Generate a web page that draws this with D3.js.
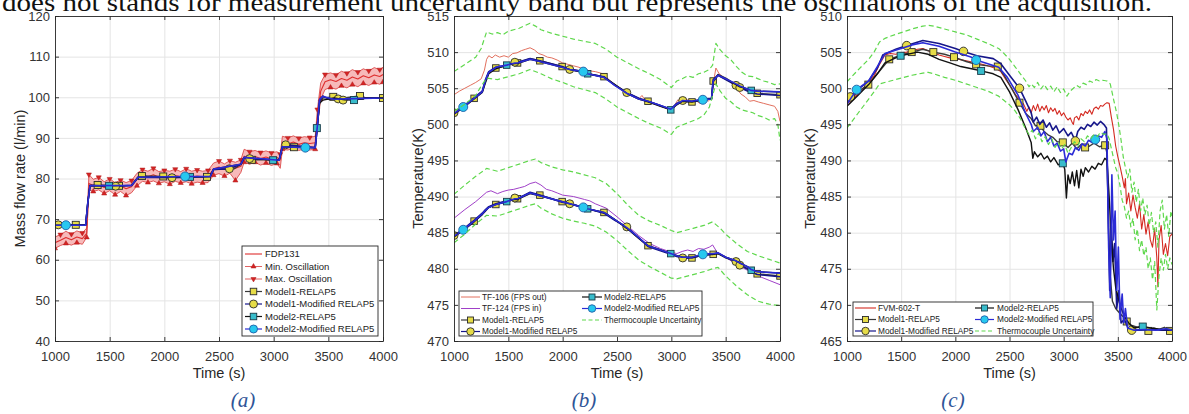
<!DOCTYPE html>
<html><head><meta charset="utf-8">
<script src="https://cdn.jsdelivr.net/npm/d3@7"></script>
<style>body{margin:0;background:#fff;}svg{display:block;}</style>
</head><body>
<svg id="chart" width="1189" height="414"></svg>
<script>
// ---------------- DATA ----------------
const headerText = "does not stands for measurement uncertainty band but represents the oscillations of the acquisition.";
const xTicks = [1000,1500,2000,2500,3000,3500,4000];
const aYTicks = [40,50,60,70,80,90,100,110,120];
const bYTicks = [470,475,480,485,490,495,500,505,510,515];
const cYTicks = [465,470,475,480,485,490,495,500,505,510];

// Panel (a): FDP131 mean with min / max oscillation
const aTime = [1000,1050,1100,1150,1200,1250,1290,1310,1350,1400,1450,1500,1550,1600,1650,1700,1750,1800,1850,1900,1950,2000,2050,2100,2150,2200,2250,2300,2350,2400,2450,2500,2550,2600,2650,2700,2730,2780,2830,2880,2930,2980,3030,3060,3080,3130,3180,3230,3280,3330,3380,3400,3430,3470,3520,3570,3620,3670,3720,3770,3820,3870,3920,3970,4000];
const aFDP131 = [64.2,64.8,65.5,64.9,65.6,65.2,66.5,78.8,78.3,78.6,77.8,78.3,77.6,78.2,77.5,78.0,79.8,80.8,80.4,80.9,80.3,80.6,80.2,80.7,80.4,80.8,80.3,80.6,80.4,80.5,82.4,82.8,82.2,82.9,82.5,83.0,85.5,85.0,85.4,84.9,85.3,84.8,85.2,84.6,88.8,88.5,89.0,88.4,88.8,88.6,88.8,95.0,101.5,103.8,104.3,103.9,104.6,104.2,105.0,104.5,105.3,104.8,105.5,105.1,105.6];
const aMinOsc = [62.8,63.5,64.0,63.6,64.2,63.8,65.5,77.2,76.8,77.2,76.3,77.0,76.0,76.8,75.8,76.5,78.2,79.3,79.0,79.4,78.8,79.2,78.6,79.3,78.9,79.2,78.7,79.1,78.9,79.0,80.8,81.2,80.6,81.3,79.5,81.5,84.0,83.5,84.0,83.3,83.8,83.2,83.7,82.5,87.2,87.0,87.5,86.9,87.3,87.0,87.2,93.0,99.5,101.9,102.4,102.0,102.8,102.3,103.1,102.6,103.4,102.9,103.6,103.2,103.7];
const aMaxOsc = [65.6,66.2,67.0,66.3,67.1,66.6,67.8,81.0,79.8,80.3,79.2,79.9,79.0,79.6,79.0,79.5,81.3,82.2,81.8,82.5,81.7,82.0,81.8,82.3,81.7,82.4,81.8,82.1,81.8,82.0,83.8,84.3,83.6,84.4,84.0,84.6,87.2,86.6,86.9,86.4,86.8,86.3,86.6,86.0,90.4,90.0,90.5,89.9,90.3,90.1,90.4,97.0,103.5,105.6,106.0,105.5,106.4,105.9,106.8,106.2,107.0,106.5,107.3,106.8,107.4];
// models (a): [time, value, markerFlag]
const aModel1 = [[1000,68.6],[1190,68.6,1],[1280,68.6],[1300,74],[1320,78.2],[1390,78.4,1],[1585,78.2,1],[1700,78.3],[1760,80.3],[1795,80.6,1],[1990,80.5,1],[2390,80.4,1],[2420,80.6],[2450,82.2],[2640,82.4],[2700,83.5],[2730,85.0],[2800,84.6,1],[3050,84.6],[3080,87.8],[3185,87.7,1],[3380,87.6],[3400,92.5],[3420,99],[3450,99.8],[3545,100.1,1],[3600,99.7],[3790,100.3,1],[3850,99.8],[4000,99.8,1]];
const aModel1Mod = [[1000,68.6],[1030,68.6,1],[1280,68.5],[1300,74],[1320,78.3],[1555,78.1,1],[1700,78.3],[1760,80.3],[2070,80.2,1],[2420,80.5],[2450,82.2],[2595,82.4,1],[2700,83.5],[2730,85.1],[2780,84.9,1],[3050,84.6],[3080,87.8],[3110,88.3,1],[3380,87.6],[3400,93],[3420,99.2],[3450,100.3],[3500,99.6],[3590,99.6,1],[3635,99.3,1],[3700,99.7],[4000,99.8]];
const aModel2 = [[1000,68.5],[1280,68.5],[1300,74],[1320,78.2],[1495,78.2,1],[1700,78.3],[1760,80.3],[2235,80.4,1],[2420,80.5],[2450,82.3],[2700,83.5],[2730,85.2],[2995,84.5,1],[3050,84.5],[3080,87.8],[3380,87.6],[3395,92.4,1],[3420,98.5],[3450,99.3],[3550,99.8],[3650,99.4],[3735,99.3,1],[3850,99.8],[4000,99.8]];
const aModel2Mod = [[1000,68.5],[1100,68.5,1],[1280,68.5],[1300,74],[1320,78.2],[1700,78.3],[1760,80.3],[2190,80.5,1],[2420,80.5],[2450,82.3],[2700,83.5],[2730,85.2],[3050,84.5],[3080,87.8],[3290,87.6,1],[3380,87.6],[3400,93],[3420,99.5],[3450,100.2],[3550,99.5],[3650,99.6],[4000,99.8]];

// Panel (b)
const bTF106 = [[1000,504.1],[1050,504.6],[1100,505.0],[1150,505.4],[1200,505.8],[1250,506.3],[1280,507.5],[1300,509.0],[1320,509.5],[1350,509.2],[1380,509.6],[1420,509.3],[1460,509.5],[1500,509.3],[1540,509.8],[1580,509.9],[1620,510.2],[1660,510.4],[1700,510.6],[1740,510.3],[1780,509.8],[1820,509.6],[1860,509.3],[1900,509.2],[1950,508.9],[2000,508.5],[2050,508.3],[2100,508.1],[2150,507.9],[2200,507.6],[2250,507.4],[2300,507.3],[2350,507.1],[2380,506.9],[2450,505.8],[2500,505.2],[2550,504.8],[2600,504.3],[2650,503.8],[2700,503.5],[2730,504.0],[2760,503.3],[2800,503.0],[2850,502.8],[2900,502.5],[2950,502.3],[3000,502.0],[3030,502.6],[3060,503.4],[3100,502.9],[3140,503.5],[3180,503.0],[3220,503.4],[3260,502.9],[3300,503.6],[3340,503.2],[3370,503.7],[3390,506.0],[3410,507.8],[3440,507.0],[3480,506.5],[3520,506.2],[3560,505.6],[3600,505.0],[3640,504.2],[3680,503.8],[3720,503.2],[3760,503.3],[3800,503.1],[3850,502.9],[3900,502.7],[3950,502.5],[3980,501.8],[4000,500.4]];
const bTF124 = [[1000,487.0],[1100,488.2],[1200,489.3],[1300,490.6],[1340,490.8],[1400,490.4],[1450,490.7],[1500,490.9],[1550,491.0],[1600,491.2],[1650,491.4],[1700,491.8],[1750,492.0],[1800,491.6],[1850,491.0],[1900,490.8],[1950,490.5],[2000,490.2],[2100,490.0],[2200,489.6],[2250,489.4],[2300,489.0],[2350,488.7],[2400,488.4],[2500,487.2],[2600,485.9],[2700,484.6],[2800,483.5],[2900,482.8],[3000,482.3],[3050,482.1],[3100,482.4],[3150,482.6],[3200,482.4],[3250,482.8],[3300,482.7],[3350,483.0],[3380,483.3],[3420,482.3],[3500,481.6],[3600,480.6],[3700,479.8],[3800,479.0],[3900,478.4],[4000,477.8]];
const bUncOutHi = [[1000,507.3],[1100,508.3],[1200,509.3],[1250,510.5],[1300,512.8],[1350,512.5],[1400,512.7],[1450,512.4],[1500,512.9],[1600,513.3],[1700,514.0],[1750,513.6],[1800,513.1],[1900,512.6],[2000,512.2],[2100,511.8],[2200,511.5],[2300,511.2],[2400,510.4],[2500,509.3],[2600,508.5],[2700,507.7],[2800,507.0],[2900,506.2],[3000,505.1],[3050,506.0],[3100,506.3],[3150,506.7],[3200,506.5],[3250,507.0],[3300,507.2],[3350,507.6],[3380,508.2],[3410,511.2],[3450,510.3],[3500,509.5],[3550,508.9],[3600,508.0],[3650,507.2],[3700,506.7],[3750,506.6],[3800,506.3],[3850,506.0],[3900,505.8],[3950,505.5],[4000,505.6]];
const bUncOutLo = [[1000,501.8],[1100,502.8],[1200,504.0],[1250,505.3],[1300,506.4],[1400,506.2],[1500,506.6],[1600,507.0],[1700,507.6],[1800,507.0],[1900,506.3],[2000,505.8],[2100,505.2],[2200,504.8],[2300,504.4],[2400,503.5],[2500,502.4],[2600,501.6],[2700,500.8],[2800,500.1],[2900,499.5],[3000,498.6],[3050,499.6],[3100,499.9],[3150,500.2],[3200,500.5],[3250,500.8],[3300,501.3],[3350,502.4],[3380,504.0],[3410,505.6],[3450,504.6],[3500,503.6],[3550,503.1],[3600,502.4],[3650,502.0],[3700,501.8],[3750,501.6],[3800,501.2],[3850,501.0],[3900,500.6],[3950,500.8],[3980,500.0],[4000,497.8]];
const bUncInHi = [[1000,490.3],[1100,491.6],[1200,492.8],[1300,493.9],[1400,493.5],[1500,494.0],[1600,494.5],[1700,495.0],[1750,495.2],[1800,494.7],[1900,494.1],[2000,493.7],[2100,493.4],[2200,493.0],[2300,492.6],[2400,491.8],[2500,490.4],[2600,488.8],[2700,487.4],[2800,486.6],[2900,486.0],[3000,485.3],[3050,485.0],[3100,485.2],[3200,485.6],[3300,486.0],[3380,486.5],[3450,485.6],[3500,484.8],[3600,483.5],[3700,482.4],[3800,481.8],[3900,481.3],[4000,480.8]];
const bUncInLo = [[1000,483.6],[1100,484.8],[1200,486.2],[1300,487.4],[1400,487.3],[1500,487.8],[1600,488.3],[1700,488.8],[1750,489.0],[1800,488.4],[1900,487.6],[2000,487.0],[2100,486.6],[2200,486.3],[2300,485.9],[2400,485.1],[2500,483.9],[2600,482.5],[2700,481.2],[2800,480.3],[2900,479.5],[3000,478.7],[3050,478.6],[3100,478.8],[3200,479.2],[3300,479.6],[3380,480.0],[3430,480.2],[3500,479.0],[3600,477.6],[3700,476.4],[3800,475.5],[3900,475.1],[4000,474.9]];
const bTime = [1000,1085,1185,1260,1290,1320,1385,1485,1560,1585,1700,1790,1995,2065,2190,2230,2380,2480,2590,2700,2785,2900,2995,3050,3105,3190,3290,3370,3385,3430,3500,3595,3630,3700,3735,3790,4000];
const bModel1Up = [501.5,502.4,503.6,504.5,506.0,507.2,507.8,508.1,508.5,508.5,509.1,508.8,508.0,507.7,507.3,507.0,506.6,505.5,504.4,503.6,503.2,502.6,502.0,502.8,503.2,503.1,503.4,503.5,506.0,506.9,506.4,505.5,505.2,504.7,504.5,504.3,504.1];
const bModel1ModUp = [501.6,502.5,503.7,504.6,506.2,507.3,507.9,508.2,508.6,508.6,509.1,508.8,508.0,507.6,507.2,507.0,506.6,505.4,504.4,503.6,503.2,502.6,502.1,502.9,503.3,503.2,503.5,503.6,506.2,506.8,506.2,505.4,505.1,504.6,504.4,504.2,504.0];
const bModel2Up = [501.4,502.3,503.5,504.4,505.8,507.0,507.7,508.2,508.4,508.4,509.0,508.7,507.9,507.6,507.2,507.0,506.5,505.5,504.3,503.5,503.1,502.5,502.0,502.7,503.2,503.1,503.4,503.5,505.9,506.8,506.3,505.5,505.2,504.9,504.7,504.6,504.5];
const bModel2ModUp = [501.5,502.4,503.6,504.5,506.1,507.2,507.9,508.2,508.5,508.5,509.0,508.7,507.9,507.6,507.3,507.0,506.5,505.4,504.3,503.5,503.2,502.6,502.1,502.8,503.3,503.2,503.4,503.5,506.0,506.8,506.3,505.6,505.3,504.9,504.7,504.6,504.5];
const bModel1Lo = [484.5,485.4,486.6,487.6,488.1,488.5,488.9,489.3,489.7,489.7,490.5,490.2,489.3,489.0,488.5,488.3,487.8,486.8,485.7,484.3,483.2,482.6,482.1,481.8,481.5,481.5,481.9,482.0,482.0,482.1,481.5,481.0,480.6,480.0,479.7,479.3,479.0];
const bModel1ModLo = [484.6,485.5,486.7,487.7,488.2,488.6,489.0,489.4,489.8,489.7,490.6,490.2,489.2,489.0,488.5,488.3,487.7,486.7,485.8,484.3,483.1,482.5,482.0,481.7,481.5,481.5,481.9,482.0,482.0,482.2,481.6,481.0,480.5,480.0,479.6,479.2,478.9];
const bModel2Lo = [484.4,485.3,486.5,487.5,488.0,488.5,488.9,489.3,489.6,489.6,490.4,490.1,489.3,489.0,488.5,488.3,487.8,486.8,485.6,484.2,483.2,482.6,482.1,481.8,481.6,481.6,481.9,482.0,482.0,482.1,481.6,481.1,480.8,480.3,479.8,479.6,479.4];
const bModel2ModLo = [484.5,485.4,486.6,487.6,488.1,488.5,488.9,489.3,489.7,489.7,490.5,490.1,489.3,489.0,488.5,488.3,487.8,486.8,485.7,484.3,483.2,482.6,482.1,481.8,481.6,481.6,482.0,482.1,482.1,482.2,481.6,481.1,480.8,480.3,479.9,479.6,479.4];
const bModel1Marks = [1185,1385,1585,1790,1995,2380,2785,3190,3385,3790,4000];
const bModel1ModMarks = [1000,1560,2065,2590,3105,3595,3630];
const bModel2Marks = [1485,2230,2995,3735];
const bModel2ModMarks = [1085,2190,3290];

// Panel (c)
const cFVM602 = [[1000,497.8],[1100,499.2],[1200,500.8],[1250,501.7],[1300,503.3],[1350,504.6],[1400,504.8],[1450,504.7],[1500,504.9],[1550,505.0],[1600,505.2],[1650,505.4],[1700,505.5],[1750,505.2],[1800,504.9],[1850,504.6],[1900,504.4],[1950,504.2],[2000,504.1],[2100,503.8],[2200,503.5],[2300,503.1],[2380,502.7],[2420,502.3],[2470,501.1],[2520,500.0],[2560,499.0],[2600,498.4],[2630,497.8],[2660,496.8],[2680,497.4],[2700,496.6],[2720,497.6],[2740,496.9],[2760,497.8],[2780,496.8],[2800,497.5],[2820,497.0],[2840,497.6],[2860,496.6],[2880,497.3],[2900,496.8],[2920,497.2],[2940,496.4],[2960,496.9],[2980,496.2],[3000,496.6],[3020,496.0],[3040,495.6],[3060,495.9],[3080,495.2],[3090,495.0],[3100,495.9],[3120,496.1],[3140,495.6],[3160,496.5],[3180,496.2],[3200,496.8],[3220,496.5],[3240,497.0],[3260,496.4],[3280,497.2],[3300,497.4],[3320,497.1],[3340,497.6],[3360,497.5],[3380,497.8],[3400,498.0],[3420,497.9],[3440,496.0],[3460,494.3],[3480,492.0],[3500,490.5],[3520,489.2],[3540,487.8],[3560,486.2],[3570,487.5],[3580,484.0],[3600,485.5],[3620,483.0],[3640,485.2],[3660,483.5],[3680,482.0],[3700,484.0],[3720,480.5],[3740,482.5],[3760,479.8],[3780,481.5],[3800,479.0],[3820,478.0],[3840,480.5],[3860,476.5],[3870,472.5],[3880,479.0],[3900,481.0],[3920,477.0],[3940,478.5],[3960,476.8],[3980,479.5],[4000,479.8]];
const cUncHi = [[1000,500.9],[1100,502.5],[1200,504.0],[1250,505.0],[1300,506.4],[1350,506.9],[1400,507.2],[1500,507.7],[1600,508.2],[1700,508.6],[1750,508.7],[1800,508.6],[1900,508.2],[2000,507.8],[2100,507.4],[2200,506.8],[2300,506.2],[2400,505.5],[2450,504.8],[2500,504.0],[2550,503.0],[2600,502.0],[2650,501.0],[2680,500.2],[2700,500.6],[2730,500.1],[2760,500.8],[2790,499.9],[2820,500.5],[2850,499.8],[2880,500.3],[2910,499.5],[2940,500.2],[2970,499.4],[3000,499.9],[3030,498.9],[3060,499.6],[3090,500.0],[3120,500.4],[3150,500.1],[3180,500.7],[3210,500.5],[3240,501.0],[3270,500.8],[3300,501.2],[3330,501.0],[3360,501.1],[3400,501.0],[3430,500.6],[3460,498.5],[3490,496.5],[3510,494.8],[3530,492.8],[3550,490.5],[3570,489.0],[3590,487.6],[3610,488.8],[3630,485.6],[3650,487.0],[3670,484.2],[3690,486.0],[3710,483.0],[3730,484.8],[3750,482.5],[3770,483.8],[3790,481.0],[3810,482.8],[3830,480.0],[3850,481.5],[3870,478.0],[3890,483.0],[3910,484.5],[3930,480.5],[3950,482.5],[3970,479.5],[3990,483.0],[4000,482.3]];
const cUncLo = [[1000,494.5],[1100,496.5],[1200,498.5],[1250,499.5],[1300,500.6],[1400,501.0],[1500,501.4],[1600,501.8],[1700,502.1],[1750,502.2],[1800,502.0],[1900,501.5],[2000,501.1],[2100,500.6],[2200,500.1],[2300,499.6],[2400,498.9],[2500,497.7],[2550,496.9],[2600,495.8],[2640,494.6],[2680,493.6],[2710,494.2],[2740,493.0],[2770,493.8],[2800,492.6],[2830,493.3],[2860,492.2],[2890,493.0],[2920,491.8],[2950,492.5],[2980,491.6],[3010,492.2],[3040,491.0],[3070,491.8],[3100,492.6],[3130,492.0],[3160,493.0],[3190,492.6],[3220,493.4],[3250,493.0],[3280,493.6],[3310,493.3],[3340,493.9],[3370,493.6],[3400,493.7],[3420,493.0],[3450,491.0],[3480,489.0],[3500,488.2],[3520,486.5],[3540,484.5],[3560,483.6],[3580,482.0],[3600,483.0],[3620,480.8],[3640,482.0],[3660,479.0],[3680,480.5],[3700,477.5],[3720,479.0],[3740,476.8],[3760,478.0],[3780,475.0],[3800,476.5],[3820,473.5],[3840,476.0],[3860,469.3],[3880,474.0],[3900,476.5],[3920,474.8],[3940,477.0],[3960,475.0],[3980,476.5],[4000,475.6]];
const cModel1 = [[1000,498.0],[1100,499.5],[1197,500.5,1],[1280,502.0],[1390,504.0,1],[1500,504.6],[1597,505.0,1],[1700,505.4],[1797,505.0,1],[1900,504.7],[1988,504.3,1],[2100,503.7],[2192,503.3,1],[2300,503.1],[2392,503.0,1],[2450,501.8],[2500,500.5],[2592,498.0,1],[2650,496.5],[2700,495.8],[2740,494.8],[2786,494.8,1],[2820,494.0],[2860,493.5],[2900,493.2],[2940,492.6],[2992,492.5,1],[3040,491.8],[3080,492.4],[3120,491.6],[3160,492.2],[3198,491.8,1],[3240,492.0],[3280,492.4],[3330,491.9],[3383,492.1,1],[3400,491.0],[3415,480.0],[3430,474.0],[3450,470.5],[3480,469.5],[3520,468.8],[3560,468.2],[3582,467.7,1],[3620,467.2],[3680,466.9],[3720,467.0],[3782,466.4,1],[3830,466.8],[3880,466.6],[3930,466.9],[3982,466.4,1],[4000,466.5]];
const cModel1Mod = [[1000,498.0],[1031,498.8,1],[1100,499.8],[1200,501.0],[1280,502.8],[1330,504.6],[1450,505.4],[1551,505.9,1],[1700,506.6],[1850,506.2],[2000,505.5],[2075,505.1,1],[2200,504.5],[2350,504.1],[2420,503.4],[2500,501.8],[2592,500.0,1],[2650,498.2],[2700,496.6],[2720,495.3],[2750,496.0],[2780,495.0],[2810,495.6],[2840,494.6],[2870,495.2],[2900,494.2],[2930,494.8],[2960,493.8],[3000,494.4],[3040,493.4],[3070,493.9],[3108,492.7,1],[3130,494.0],[3160,494.6],[3190,494.3],[3220,495.0],[3250,494.7],[3280,495.3],[3310,494.9],[3340,495.4],[3370,495.0],[3395,494.5],[3410,484.0],[3425,472.0],[3440,481.0],[3455,476.0],[3470,478.5],[3490,469.5],[3510,472.0],[3530,467.5],[3560,468.0],[3600,466.6],[3628,466.5,1],[3700,466.5],[3800,466.6],[3900,466.5],[4000,466.5]];
const cModel2 = [[1000,497.5],[1100,499.0],[1200,500.5],[1280,502.0],[1350,503.5],[1450,504.2],[1495,504.5,1],[1650,505.0],[1750,504.7],[1850,504.0],[1950,503.5],[2050,503.0],[2150,502.7],[2238,502.4,1],[2350,502.0],[2420,501.5],[2500,499.5],[2580,497.0],[2650,494.5],[2700,492.5],[2715,490.3],[2730,491.2],[2760,490.5],[2790,491.0],[2820,490.2],[2850,490.6],[2880,489.8],[2910,490.4],[2950,489.4],[2992,489.6,1],[3010,488.8],[3025,484.8],[3040,488.0],[3060,486.8],[3080,488.4],[3100,486.5],[3120,488.6],[3140,486.2],[3160,488.8],[3180,487.8],[3200,489.0],[3230,488.4],[3260,489.2],[3290,488.8],[3320,489.6],[3350,489.4],[3380,490.3],[3400,490.0],[3420,485.0],[3440,479.0],[3460,475.0],[3480,472.5],[3500,471.2],[3520,470.0],[3540,469.2],[3560,468.4],[3600,467.5],[3650,466.8],[3730,467.0,1],[3800,466.8],[3900,466.6],[4000,466.6]];
const cModel2Mod = [[1000,497.8],[1089,499.8,1],[1200,501.0],[1280,503.0],[1350,504.8],[1500,505.5],[1600,506.0],[1700,506.3],[1850,505.8],[2000,505.0],[2150,504.3],[2192,503.9,1],[2300,503.4],[2400,502.9],[2480,501.5],[2580,499.0],[2650,496.5],[2700,495.0],[2720,494.0],[2760,494.6],[2790,493.4],[2820,494.0],[2850,492.6],[2880,493.2],[2910,492.0],[2940,492.4],[2970,491.3],[3000,491.6],[3020,489.8],[3050,491.0],[3080,490.8],[3110,491.8],[3140,491.4],[3170,492.3],[3200,492.0],[3230,492.8],[3260,492.5],[3291,492.9,1],[3320,493.4],[3350,493.2],[3380,494.0],[3400,493.0],[3415,478.0],[3430,471.0],[3445,488.0],[3460,479.0],[3475,483.0],[3490,472.0],[3505,478.0],[3520,468.0],[3540,471.5],[3555,467.5],[3570,469.5],[3590,466.8],[3650,466.5],[3750,466.6],[3850,466.5],[3950,466.7],[4000,466.5]];

// ---------------- STYLE ----------------
const TOP = 16, BOT = 341;
const FONT = '"Liberation Sans", Arial, sans-serif';
const AXC = '#262626';
const YEL = {fill:'#e6dc48', stroke:'#2a2a2a'};
const CYC = {fill:'#27c8ef', stroke:'#1f5fa8'};
const CYS = {fill:'#38bccb', stroke:'#183a46'};
const S = {
  m1:   {color:'#3a3a3a', width:1.4, marker:'sq', mk:YEL},
  m1m:  {color:'#16168a', width:1.6, marker:'ci', mk:YEL},
  m2:   {color:'#111111', width:1.4, marker:'sq', mk:CYS},
  m2m:  {color:'#2b2bd6', width:1.6, marker:'ci', mk:CYC},
  green:{color:'#5fd84c', width:1.2, dash:'5,3'}
};

const svg = d3.select('#chart');
const defs = svg.append('defs');

svg.append('text').attr('x',2).attr('y',11)
  .attr('font-family','"Liberation Serif","Times New Roman",serif').attr('font-size',26)
  .attr('textLength',1150).attr('lengthAdjust','spacingAndGlyphs').attr('fill','#111')
  .text(headerText);

function marker(sel, type, cx, cy, mk, size){
  if(type==='sq'){
    sel.append('rect').attr('x',cx-size/2).attr('y',cy-size/2).attr('width',size).attr('height',size)
      .attr('fill',mk.fill).attr('stroke',mk.stroke).attr('stroke-width',0.9);
  } else if(type==='ci'){
    sel.append('circle').attr('cx',cx).attr('cy',cy).attr('r',size/2)
      .attr('fill',mk.fill).attr('stroke',mk.stroke).attr('stroke-width',0.9);
  } else if(type==='tu' || type==='td'){
    sel.append('path').attr('d',d3.symbol(d3.symbolTriangle, size*size*0.45)())
      .attr('transform',`translate(${cx},${cy})${type==='td'?' rotate(180)':''}`)
      .attr('fill',mk.fill).attr('stroke',mk.stroke).attr('stroke-width',0.5);
  }
}

function drawSeries(g, x, y, pts, st, msize){
  const line = d3.line().x(d=>x(d[0])).y(d=>y(d[1]));
  g.append('path').attr('d',line(pts)).attr('fill','none').attr('stroke',st.color)
    .attr('stroke-width',st.width).attr('stroke-dasharray',st.dash||null).attr('stroke-linejoin','round');
  if(st.marker){
    pts.filter(d=>d[2]===1).forEach(d=>marker(g, st.marker, x(d[0]), y(d[1]), st.mk, msize));
  }
}

function zipMarks(times, vals, marks){
  return times.map((t,i)=>marks.indexOf(t)>=0 ? [t,vals[i],1] : [t,vals[i]]);
}

function panel(o){
  const x = d3.scaleLinear().domain([1000,4000]).range([o.x0,o.x1]);
  const y = d3.scaleLinear().domain(o.yd).range([BOT,TOP]);
  const g = svg.append('g');
  const H = BOT-TOP, W = o.x1-o.x0;
  const gx = g.append('g').attr('transform',`translate(0,${BOT})`)
    .call(d3.axisBottom(x).tickValues(xTicks).tickSize(-H).tickFormat(''));
  const gy = g.append('g').attr('transform',`translate(${o.x0},0)`)
    .call(d3.axisLeft(y).tickValues(o.yt).tickSize(-W).tickFormat(''));
  [gx,gy].forEach(s=>{ s.select('.domain').remove(); s.selectAll('line').attr('stroke','#e4e4e4'); });
  const cid = 'clip'+o.id;
  defs.append('clipPath').attr('id',cid).append('rect').attr('x',o.x0).attr('y',TOP).attr('width',W).attr('height',H);
  const dg = g.append('g').attr('clip-path',`url(#${cid})`);
  o.draw(dg, x, y);
  const styleAx = s => {
    s.select('.domain').attr('stroke',AXC).attr('stroke-width',0.9);
    s.selectAll('.tick line').attr('stroke',AXC).attr('stroke-width',0.9);
    s.selectAll('.tick text').attr('fill','#333').attr('font-size',13).attr('font-family',FONT);
  };
  styleAx(g.append('g').attr('transform',`translate(0,${BOT})`)
    .call(d3.axisBottom(x).tickValues(xTicks).tickSizeInner(-4).tickSizeOuter(0).tickPadding(11).tickFormat(d3.format('d'))));
  styleAx(g.append('g').attr('transform',`translate(0,${TOP})`)
    .call(d3.axisTop(x).tickValues(xTicks).tickSizeInner(-4).tickSizeOuter(0).tickFormat('')));
  styleAx(g.append('g').attr('transform',`translate(${o.x0},0)`)
    .call(d3.axisLeft(y).tickValues(o.yt).tickSizeInner(-4).tickSizeOuter(0).tickPadding(5).tickFormat(d3.format('d'))));
  styleAx(g.append('g').attr('transform',`translate(${o.x1},0)`)
    .call(d3.axisRight(y).tickValues(o.yt).tickSizeInner(-4).tickSizeOuter(0).tickFormat('')));
  g.append('text').attr('x',(o.x0+o.x1)/2).attr('y',378).attr('text-anchor','middle')
    .attr('font-family',FONT).attr('font-size',14.5).attr('fill','#262626').text('Time (s)');
  g.append('text').attr('transform',`translate(${o.ylx},${(TOP+BOT)/2}) rotate(-90)`).attr('text-anchor','middle')
    .attr('font-family',FONT).attr('font-size',14.5).attr('fill','#262626').text(o.ylabel);
  g.append('text').attr('x',o.capx).attr('y',407).attr('text-anchor','middle')
    .attr('font-family','"Liberation Serif","Times New Roman",serif').attr('font-style','italic')
    .attr('font-size',21).attr('fill','#2f5597').text(o.cap);
  const L = o.legend;
  const lg = g.append('g');
  lg.append('rect').attr('x',L.x).attr('y',L.y).attr('width',L.w).attr('height',L.h)
    .attr('fill','#fff').attr('stroke',AXC).attr('stroke-width',0.9);
  L.cols.forEach(col=>{
    col.items.forEach((it,i)=>{
      const cy = col.y0 + i*L.dy;
      lg.append('line').attr('x1',col.lx0).attr('x2',col.lx1).attr('y1',cy).attr('y2',cy)
        .attr('stroke',it.color).attr('stroke-width',it.width).attr('stroke-dasharray',it.dash||null);
      if(it.marker) marker(lg, it.marker, (col.lx0+col.lx1)/2, cy, it.mk, it.ms);
      lg.append('text').attr('x',col.tx).attr('y',cy).attr('dy','0.35em')
        .attr('font-family',FONT).attr('font-size',L.fs).attr('fill','#222').text(it.label);
    });
  });
}

// ---------------- PANEL A ----------------
const RED_A = '#de2f2f';
panel({
  id:'a', x0:55, x1:383, yd:[40,120], yt:aYTicks, ylx:25, ylabel:'Mass flow rate (l/min)', cap:'(a)', capx:243,
  draw:(g,x,y)=>{
    const area = d3.area().x((d,i)=>x(aTime[i])).y0((d,i)=>y(aMinOsc[i])).y1((d,i)=>y(aMaxOsc[i]));
    g.append('path').attr('d',area(aTime)).attr('fill','#f5a9a9').attr('opacity',0.8);
    const fdp = aTime.map((t,i)=>[t,aFDP131[i]]);
    drawSeries(g,x,y,fdp,{color:RED_A,width:1.1});
    const mn = aTime.map((t,i)=>i%2===0?[t,aMinOsc[i],1]:[t,aMinOsc[i]]);
    const mx = aTime.map((t,i)=>i%2===1?[t,aMaxOsc[i],1]:[t,aMaxOsc[i]]);
    const tri = {fill:'#d42424', stroke:'#b01818'};
    drawSeries(g,x,y,mn,{color:'#d83a3a',width:0.8,marker:'tu',mk:tri},5);
    drawSeries(g,x,y,mx,{color:'#d83a3a',width:0.8,marker:'td',mk:tri},5);
    drawSeries(g,x,y,aModel1,S.m1,7);
    drawSeries(g,x,y,aModel1Mod,S.m1m,8);
    drawSeries(g,x,y,aModel2,S.m2,7);
    drawSeries(g,x,y,aModel2Mod,S.m2m,9);
  },
  legend:{x:242,y:246,w:136,h:90,dy:12.5,fs:9.5,cols:[{y0:254,lx0:245,lx1:262,tx:265,items:[
    {label:'FDP131',color:RED_A,width:1.1},
    {label:'Min. Oscillation',color:'#d83a3a',width:0.8,marker:'tu',mk:{fill:'#d42424',stroke:'#b01818'},ms:5},
    {label:'Max. Oscillation',color:'#d83a3a',width:0.8,marker:'td',mk:{fill:'#d42424',stroke:'#b01818'},ms:5},
    {label:'Model1-RELAP5',color:S.m1.color,width:1.2,marker:'sq',mk:YEL,ms:6.5},
    {label:'Model1-Modified RELAP5',color:S.m1m.color,width:1.2,marker:'ci',mk:YEL,ms:8},
    {label:'Model2-RELAP5',color:S.m2.color,width:1.2,marker:'sq',mk:CYS,ms:6.5},
    {label:'Model2-Modified RELAP5',color:S.m2m.color,width:1.2,marker:'ci',mk:CYC,ms:8}
  ]}]}
});

// ---------------- PANEL B ----------------
const RED_B = '#e2705e', PUR_B = '#a040c8';
panel({
  id:'b', x0:454, x1:780, yd:[470,515], yt:bYTicks, ylx:423, ylabel:'Temperature(K)', cap:'(b)', capx:584,
  draw:(g,x,y)=>{
    drawSeries(g,x,y,bTF106,{color:RED_B,width:1});
    drawSeries(g,x,y,bTF124,{color:PUR_B,width:1});
    drawSeries(g,x,y,zipMarks(bTime,bModel1Up,bModel1Marks),S.m1,6.5);
    drawSeries(g,x,y,zipMarks(bTime,bModel1Lo,bModel1Marks),S.m1,6.5);
    drawSeries(g,x,y,zipMarks(bTime,bModel1ModUp,bModel1ModMarks),S.m1m,8);
    drawSeries(g,x,y,zipMarks(bTime,bModel1ModLo,bModel1ModMarks),S.m1m,8);
    drawSeries(g,x,y,zipMarks(bTime,bModel2Up,bModel2Marks),S.m2,6.5);
    drawSeries(g,x,y,zipMarks(bTime,bModel2Lo,bModel2Marks),S.m2,6.5);
    drawSeries(g,x,y,zipMarks(bTime,bModel2ModUp,bModel2ModMarks),S.m2m,9);
    drawSeries(g,x,y,zipMarks(bTime,bModel2ModLo,bModel2ModMarks),S.m2m,9);
    [bUncOutHi,bUncOutLo,bUncInHi,bUncInLo].forEach(d=>drawSeries(g,x,y,d,S.green));
  },
  legend:{x:459,y:291,w:243,h:45,dy:11.5,fs:8.3,cols:[
    {y0:297,lx0:461,lx1:480,tx:482,items:[
      {label:'TF-106 (FPS out)',color:RED_B,width:1},
      {label:'TF-124 (FPS in)',color:PUR_B,width:1},
      {label:'Model1-RELAP5',color:S.m1.color,width:1.2,marker:'sq',mk:YEL,ms:6},
      {label:'Model1-Modified RELAP5',color:S.m1m.color,width:1.2,marker:'ci',mk:YEL,ms:7.5}]},
    {y0:297,lx0:582,lx1:602,tx:604,items:[
      {label:'Model2-RELAP5',color:S.m2.color,width:1.2,marker:'sq',mk:CYS,ms:6},
      {label:'Model2-Modified RELAP5',color:S.m2m.color,width:1.2,marker:'ci',mk:CYC,ms:7.5},
      {label:'Thermocouple Uncertainty',color:S.green.color,width:1.2,dash:'4,2.5'}]}
  ]}
});

// ---------------- PANEL C ----------------
const RED_C = '#d42a22';
panel({
  id:'c', x0:847, x1:1172, yd:[465,510], yt:cYTicks, ylx:815, ylabel:'Temperature(K)', cap:'(c)', capx:953,
  draw:(g,x,y)=>{
    drawSeries(g,x,y,cFVM602,{color:RED_C,width:1.1});
    drawSeries(g,x,y,cModel1,S.m1,7);
    drawSeries(g,x,y,cModel1Mod,S.m1m,8.5);
    drawSeries(g,x,y,cModel2,S.m2,7);
    drawSeries(g,x,y,cModel2Mod,S.m2m,9);
    [cUncHi,cUncLo].forEach(d=>drawSeries(g,x,y,d,S.green));
  },
  legend:{x:853,y:302,w:240,h:34,dy:11.5,fs:8.3,cols:[
    {y0:308,lx0:855,lx1:876,tx:878,items:[
      {label:'FVM-602-T',color:RED_C,width:1.1},
      {label:'Model1-RELAP5',color:S.m1.color,width:1.2,marker:'sq',mk:YEL,ms:6},
      {label:'Model1-Modified RELAP5',color:S.m1m.color,width:1.2,marker:'ci',mk:YEL,ms:7.5}]},
    {y0:308,lx0:975,lx1:994,tx:997,items:[
      {label:'Model2-RELAP5',color:S.m2.color,width:1.2,marker:'sq',mk:CYS,ms:6},
      {label:'Model2-Modified RELAP5',color:S.m2m.color,width:1.2,marker:'ci',mk:CYC,ms:7.5},
      {label:'Thermocouple Uncertainty',color:S.green.color,width:1.2,dash:'4,2.5'}]}
  ]}
});
</script>
</body></html>
